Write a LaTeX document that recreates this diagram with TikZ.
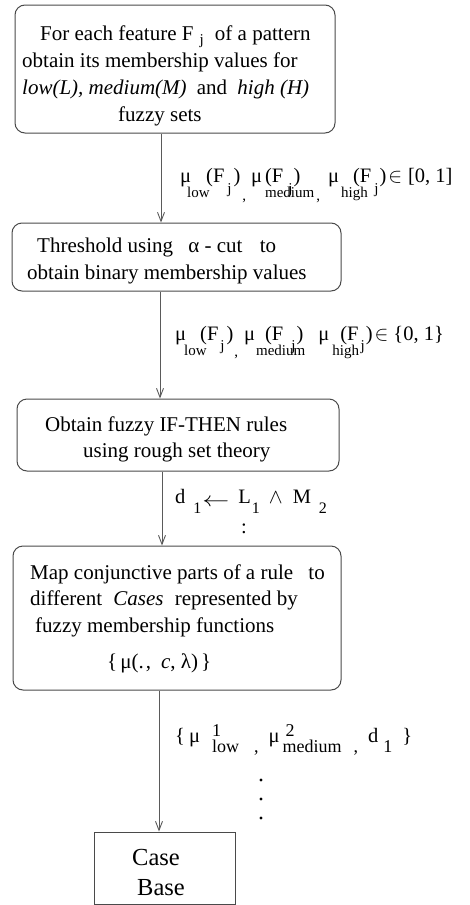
\documentclass[tikz,border=0pt]{standalone}
\usepackage{fontspec}
\setmainfont{Liberation Serif}
\usetikzlibrary{arrows.meta}
\definecolor{linec}{HTML}{4A4A4A}
\definecolor{arrc}{HTML}{5A5A5A}
\newcommand{\sbx}[3][15]{\raisebox{#2}{\fontsize{#1}{#1}\selectfont #3}}
\newcommand{\ovl}[1]{\makebox[0pt][l]{#1}}
\begin{document}
\begin{tikzpicture}[x=1pt,y=-1pt,
  rbox/.style={draw=linec, line width=1pt, rounded corners=10pt, inner sep=0pt},
  sbox/.style={draw=linec, line width=1pt, inner sep=0pt},
  arr/.style={draw=arrc, line width=0.9pt, -{Straight Barb[length=9pt,width=7pt]}},
  tx/.style={anchor=base west, inner sep=0pt, font=\fontsize{21}{25}\selectfont},
  lb/.style={anchor=base west, inner sep=0pt, font=\fontsize{20.5}{24}\selectfont},
  big/.style={anchor=base west, inner sep=0pt, font=\fontsize{24.5}{29}\selectfont}]
\useasboundingbox (0,0) rectangle (469,905);

% boxes
\node[rbox, minimum width=320pt, minimum height=128pt] (B1) at (175,69) {};
\node[rbox, minimum width=329pt, minimum height=68pt]  (B2) at (176.5,257) {};
\node[rbox, minimum width=322pt, minimum height=72pt]  (B3) at (178,435) {};
\node[rbox, minimum width=328pt, minimum height=144pt] (B4) at (177,618) {};
\node[sbox, minimum width=141pt, minimum height=72pt]  (B5) at (164.5,868) {};

% box texts
\node[tx] (t11) at (40,40)  {For each feature F\hspace{6pt}\sbx{-4pt}{j}\hspace{6pt} of a pattern};
\node[tx] (t12) at (22,67)  {obtain its membership values for};
\node[tx] (t13) at (22,94)  {\textit{low(L), medium(M)}\hspace{5pt} and\hspace{5pt} \textit{high (H)}};
\node[tx] (t14) at (118,121) {fuzzy sets};

\node[tx] (t21) at (37,252) {Threshold using\hspace{10pt} α - cut\hspace{12pt} to};
\node[tx] (t22) at (27,279) {obtain binary membership values};

\node[tx] (t31) at (45,431) {Obtain fuzzy IF-THEN rules};
\node[tx] (t32) at (83,457) {using rough set theory};

\node[tx] (t41) at (30,579) {Map conjunctive parts of a rule\hspace{10pt} to};
\node[tx] (t42) at (30,605) {different\hspace{6pt} \textit{Cases}\hspace{6pt} represented by};
\node[tx] (t43) at (35,632) {fuzzy membership functions};
\node[tx] (t44) at (107,668) {\{\hspace{3pt}μ(.\hspace{2pt},\hspace{10pt}\textit{c}, λ)\hspace{3pt}\}};

\node[big] (t51) at (132,865) {Case};
\node[big] (t52) at (137,895) {Base};

% connectors
\draw[arr] ([xshift=-14pt]B1.south) -- ([xshift=-15.5pt]B2.north);
\draw[arr] ([xshift=-16.5pt]B2.south) -- ([xshift=-18pt]B3.north);
\draw[arr] ([xshift=-16pt]B3.south) -- ([xshift=-15pt]B4.north);
\draw[arr] ([xshift=-18pt]B4.south) -- ([xshift=-5.5pt]B5.north);

% labels
\node[lb] (L1) at (180,182) {μ\hspace{-4pt}\ovl{\sbx{-15pt}{low}}\hspace{19pt}(F\hspace{3pt}\sbx{-11pt}{j}\hspace{2pt})\hspace{2pt}\sbx{-18pt}{,}\hspace{5pt}%
μ\hspace{3pt}\ovl{\sbx{-15pt}{medium}}(F\hspace{5pt}\sbx{-11pt}{j}\hspace{1pt})\hspace{16pt}\sbx{-18pt}{,}\hspace{8pt}%
μ\hspace{2pt}\ovl{\sbx{-15pt}{high}}\hspace{12pt}(F\hspace{3pt}\sbx{-11pt}{j}\hspace{1pt})\hspace{2pt}$\in$\hspace{6pt}[0, 1]};

\node[lb] (L2) at (175,340) {μ\hspace{-2pt}\ovl{\sbx{-15pt}{low}}\hspace{16pt}(F\hspace{2pt}\sbx{-10pt}{j}\hspace{2pt})\hspace{1pt}\sbx{-16pt}{,}\hspace{6pt}%
μ\hspace{1pt}\ovl{\sbx{-15pt}{medium}}\hspace{9pt}(F\hspace{8pt}\sbx{-10pt}{j}\hspace{1pt})\hspace{15pt}%
μ\hspace{3pt}\ovl{\sbx{-15pt}{high}}\hspace{8pt}(F\hspace{2pt}\sbx{-10pt}{j}\hspace{1pt})\hspace{2pt}$\in$\hspace{5pt}\{0, 1\}};

\node[lb] (L3) at (175,503) {d\hspace{8pt}\sbx[16]{-10pt}{1}\hspace{1pt}\raisebox{-3pt}{\scalebox{1.3}[1]{$\leftarrow$}}\hspace{9pt}L\hspace{1pt}\sbx[16]{-10pt}{1}\hspace{9pt}$\wedge$\hspace{10pt}M\hspace{8pt}\sbx[16]{-10pt}{2}};
\node[lb] (L3c) at (241,533) {:};

\node[lb] (L4) at (175,742) {\{\hspace{4pt}μ\hspace{12pt}\ovl{\sbx[18]{6pt}{1}}\sbx[18]{-10pt}{low}\hspace{15pt}\sbx[18]{-10pt}{,}\hspace{10pt}%
μ\hspace{3pt}\ovl{\hspace{3pt}\sbx[18]{6pt}{2}}\sbx[18]{-10pt}{medium}\hspace{12pt}\sbx[18]{-10pt}{,}\hspace{10pt}d\hspace{5pt}\sbx[18]{-10pt}{1}\hspace{10pt}\}};

\fill (261,780) circle (1.6pt);
\fill (261,799) circle (1.6pt);
\fill (261,818) circle (1.6pt);
\end{tikzpicture}
\end{document}
